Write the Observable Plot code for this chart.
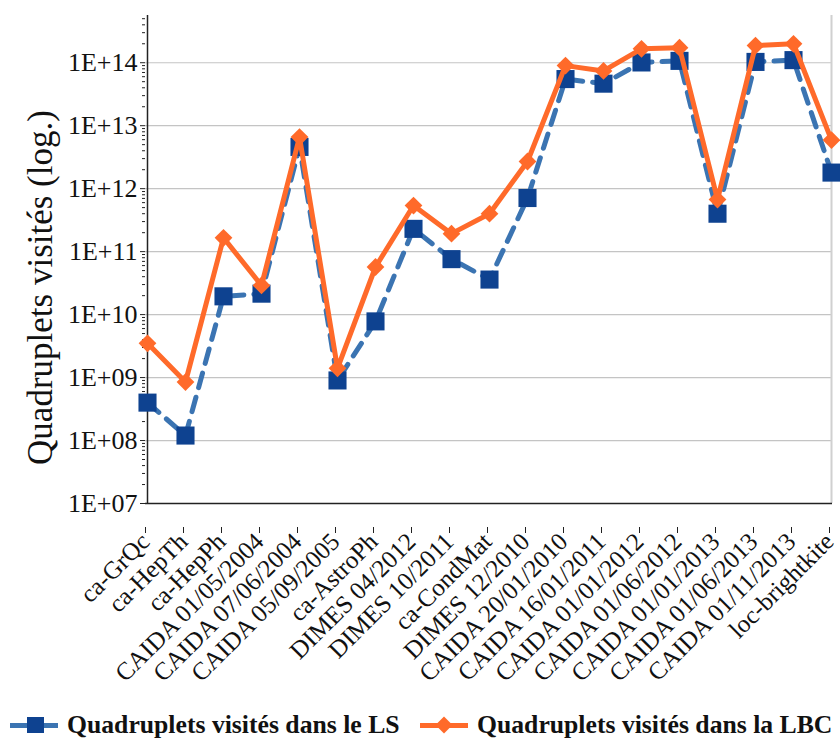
<!DOCTYPE html>
<html><head><meta charset="utf-8">
<script src="https://cdn.jsdelivr.net/npm/d3@7"></script>
<script src="https://cdn.jsdelivr.net/npm/@observablehq/plot@0.6"></script>
<style>
html,body{margin:0;padding:0;background:#fff;}
#chart svg{display:block;}
#legend{position:relative;height:52px;font-family:"Liberation Serif",serif;font-weight:bold;font-size:25.7px;color:#111;}
.item{position:absolute;top:20px;display:flex;align-items:center;white-space:nowrap;}
.sw{position:relative;width:48px;height:20px;margin-right:9px;}
.sw .ln{position:absolute;left:0;right:0;top:8px;height:5px;}
.sw .mk{position:absolute;}
</style></head><body>
<div id="chart"></div>
<div id="legend"></div>
<script>
const categories = ["ca-GrQc","ca-HepTh","ca-HepPh","CAIDA 01/05/2004","CAIDA 07/06/2004","CAIDA 05/09/2005","ca-AstroPh","DIMES 04/2012","DIMES 10/2011","ca-CondMat","DIMES 12/2010","CAIDA 20/01/2010","CAIDA 16/01/2011","CAIDA 01/01/2012","CAIDA 01/06/2012","CAIDA 01/01/2013","CAIDA 01/06/2013","CAIDA 01/11/2013","loc-brightkite"];
const lsValues = [4.0e8,1.2e8,1.95e10,2.15e10,4.6e12,9.0e8,7.8e9,2.3e11,7.6e10,3.6e10,7.1e11,5.5e13,4.65e13,1.01e14,1.07e14,4.0e11,1.03e14,1.1e14,1.8e12];
const lbcValues = [3.5e9,8.5e8,1.66e11,2.9e10,6.6e12,1.4e9,5.7e10,5.4e11,1.93e11,4.0e11,2.7e12,9.0e13,7.4e13,1.66e14,1.73e14,6.7e11,1.87e14,2.0e14,5.9e12];
const seriesNames = ["Quadruplets visités dans le LS","Quadruplets visités dans la LBC"];
const yTicks = [1e7,1e8,1e9,1e10,1e11,1e12,1e13,1e14];
const yTickLabels = ["1E+07","1E+08","1E+09","1E+10","1E+11","1E+12","1E+13","1E+14"];
const yTitle = "Quadruplets visités (log.)";

const yMax = Math.pow(10,14.75);
const minorTicks = [];
for (const t of yTicks) for (let k=2;k<=9;k++) if (k*t <= yMax) minorTicks.push(k*t);
const labelMap = new Map(yTicks.map((t,i)=>[t,yTickLabels[i]]));
const data = categories.map((c,i)=>({cat:c, ls:lsValues[i], lbc:lbcValues[i]}));

const blueLine = "#3b74b2", blueMark = "#0e4290", orange = "#ff6a2a";

const chart = Plot.plot({
  width:840, height:690,
  marginLeft:145, marginRight:8, marginTop:15, marginBottom:187,
  style:{fontFamily:"'Liberation Serif', serif", background:"#fff", color:"#111"},
  x:{type:"point", domain:categories, padding:0},
  y:{type:"log", domain:[1e7,yMax]},
  marks:[
    Plot.gridY(yTicks,{stroke:"#c4c4c4", strokeOpacity:1, strokeWidth:1.2}),
    Plot.ruleX([categories[categories.length-1]],{stroke:"#d0d0d0", strokeWidth:2}),
    Plot.axisY(minorTicks,{tickSize:3, tickFormat:()=>"", label:null, stroke:"#222"}),
    Plot.axisY(yTicks,{tickSize:5, tickPadding:3, fontSize:26, tickFormat:d=>labelMap.get(d), label:null, stroke:"#222"}),
    Plot.axisX({tickRotate:-45, fontSize:25, tickSize:6, tickPadding:4, dy:24, dx:-2, label:null, stroke:"#222"}),
    Plot.ruleX([categories[0]],{stroke:"#222", strokeWidth:1.5}),
    Plot.ruleY([1e7],{stroke:"#222", strokeWidth:1.5}),
    Plot.lineY(data,{x:"cat", y:"ls", stroke:blueLine, strokeWidth:5, strokeDasharray:"15,10"}),
    Plot.dot(data,{x:"cat", y:"ls", symbol:"square", r:10.2, fill:blueMark, stroke:null}),
    Plot.lineY(data,{x:"cat", y:"lbc", stroke:orange, strokeWidth:5}),
    Plot.dot(data,{x:"cat", y:"lbc", symbol:"diamond2", r:8, fill:orange, stroke:null}),
    Plot.text([yTitle],{text:d=>d, frameAnchor:"left", textAnchor:"middle", lineAnchor:"middle", dx:-105, dy:28, rotate:-90, fontSize:35, fill:"#111"})
  ]
});
document.getElementById("chart").append(chart);

const legend = document.getElementById("legend");
const items = [
  {name:seriesNames[0], left:10, line:blueLine, mark:`<div class="mk" style="left:17px;top:2px;width:17px;height:16px;background:${blueMark}"></div>`},
  {name:seriesNames[1], left:420, line:orange, mark:`<div class="mk" style="left:18px;top:4px;width:12px;height:12px;background:${orange};transform:rotate(45deg)"></div>`}
];
for (const it of items) {
  const d = document.createElement("div");
  d.className = "item";
  d.style.left = it.left + "px";
  d.innerHTML = `<div class="sw"><div class="ln" style="background:${it.line}"></div>${it.mark}</div><span>${it.name}</span>`;
  legend.append(d);
}
</script>
</body></html>
